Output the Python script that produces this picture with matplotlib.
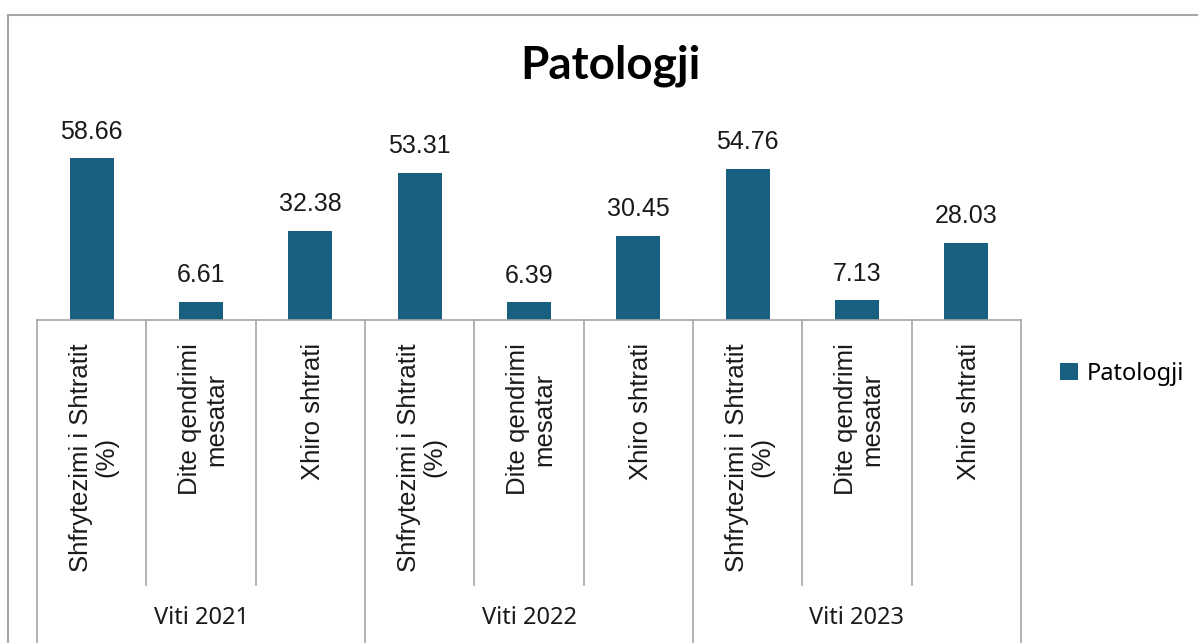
import matplotlib
matplotlib.use("Agg")
import matplotlib.pyplot as plt
import matplotlib.transforms as mtransforms
from matplotlib.patches import Rectangle, Patch

categories = ["Shfrytezimi i Shtratit\n(%)", "Dite qendrimi\nmesatar", "Xhiro shtrati"] * 3
groups = ["Viti 2021", "Viti 2022", "Viti 2023"]
values = [58.66, 6.61, 32.38, 53.31, 6.39, 30.45, 54.76, 7.13, 28.03]
series_name = "Patologji"
title = "Patologji"

BAR = "#195f80"
GRID = "#a6a6a6"
W, H = 1198, 643

fig = plt.figure(figsize=(W / 100, H / 100), dpi=100)
ax = fig.add_axes([37 / W, (H - 320) / H, (1021 - 37) / W, 220 / H])

x = list(range(len(values)))
ax.bar(x, values, width=0.40, color=BAR, zorder=2)
ax.set_xlim(-0.5, len(values) - 0.5)
ax.set_ylim(0, 220 / 2.762)
for s in ["top", "right", "left"]:
    ax.spines[s].set_visible(False)
ax.spines["bottom"].set_color(GRID)
ax.spines["bottom"].set_linewidth(1.2)
ax.set_xticks([])
ax.set_yticks([])

for xi, v in zip(x, values):
    ax.annotate(f"{v:.2f}", (xi, v), xytext=(0, 14), textcoords="offset points",
                ha="center", va="baseline", fontsize=18, family="Liberation Sans",
                color="#1a1a1a")

trans = mtransforms.blended_transform_factory(ax.transData, fig.transFigure)
y_axis = (H - 320) / H
y_inner = (H - 585) / H
for b in range(len(values) + 1):
    xb = b - 0.5
    if b % 3 == 0:
        ax.plot([xb, xb], [y_axis, 0], transform=trans, color=GRID, lw=1.2, clip_on=False)
    else:
        ax.plot([xb, xb], [y_axis, y_inner], transform=trans, color=GRID, lw=1.2, clip_on=False)

for xi, lab in zip(x, categories):
    ax.text(xi + 0.02, (H - 343) / H, lab, transform=trans, rotation=90,
            ha="center", va="top", multialignment="center", fontsize=18.5,
            family="Liberation Sans", color="#1a1a1a", linespacing=1.1)

for gi, g in enumerate(groups):
    ax.text(gi * 3 + 1, (H - 618) / H, g, transform=trans, ha="center", va="center",
            fontsize=17, family="Noto Sans", color="#1a1a1a")

fig.text(610 / W, (H - 66) / H, title, ha="center", va="center", fontsize=33,
         fontweight="bold", family="Lato", color="#000000")

fig.legend(handles=[Patch(facecolor=BAR, edgecolor="none", label=series_name)],
           loc="center left", bbox_to_anchor=(1060 / W, (H - 374) / H), frameon=False,
           handlelength=0.75, handleheight=0.75, handletextpad=0.4, borderpad=0,
           borderaxespad=0, prop={"family": "Noto Sans", "size": 17})

fig.patches.append(Rectangle((8 / W, -0.1), 1.2, (H - 15) / H + 0.1, transform=fig.transFigure,
                             fill=False, edgecolor=GRID, lw=1.5, clip_on=False))

fig.savefig("out.png", dpi=100, facecolor="white")
